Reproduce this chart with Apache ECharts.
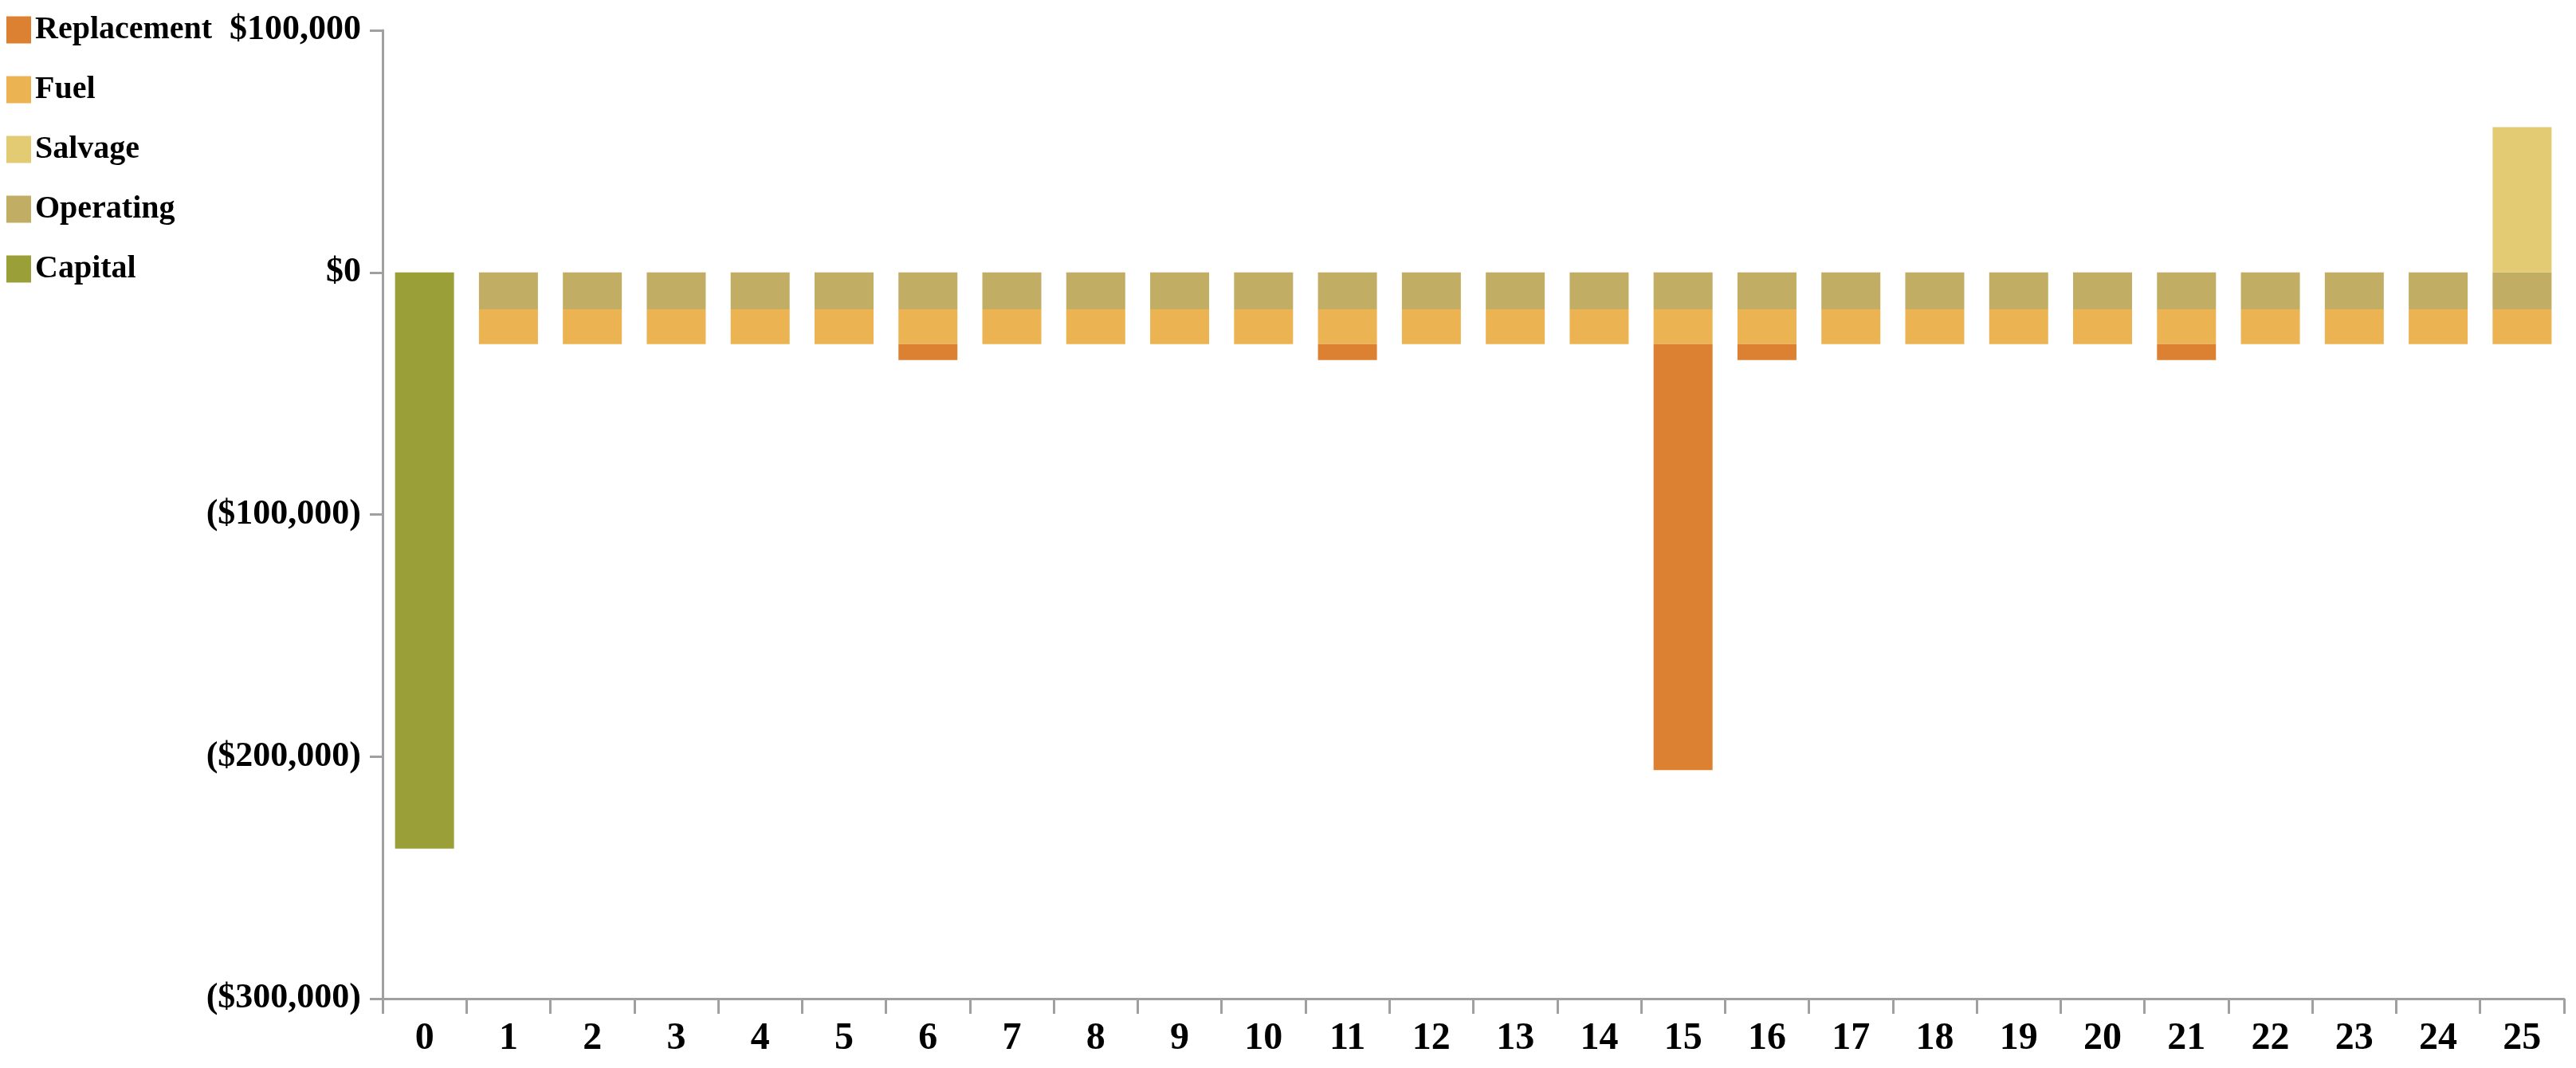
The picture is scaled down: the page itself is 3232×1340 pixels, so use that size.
<!DOCTYPE html>
<html>
<head>
<meta charset="utf-8">
<script src="https://cdn.jsdelivr.net/npm/echarts@6/dist/echarts.min.js"></script>
<style>
html,body{margin:0;padding:0;background:#fff;}
#chart{width:3232px;height:1340px;}
</style>
</head>
<body>
<div id="chart"></div>
<script>
const years = ['0','1','2','3','4','5','6','7','8','9','10','11','12','13','14','15','16','17','18','19','20','21','22','23','24','25'];
const capital = [-238000,null,null,null,null,null,null,null,null,null,null,null,null,null,null,null,null,null,null,null,null,null,null,null,null,null];
const operating = [null,-15200,-15200,-15200,-15200,-15200,-15200,-15200,-15200,-15200,-15200,-15200,-15200,-15200,-15200,-15200,-15200,-15200,-15200,-15200,-15200,-15200,-15200,-15200,-15200,-15200];
const fuel = [null,-14400,-14400,-14400,-14400,-14400,-14400,-14400,-14400,-14400,-14400,-14400,-14400,-14400,-14400,-14400,-14400,-14400,-14400,-14400,-14400,-14400,-14400,-14400,-14400,-14400];
const replacement = [null,null,null,null,null,null,-6600,null,null,null,null,-6600,null,null,null,-176000,-6600,null,null,null,null,-6600,null,null,null,null];
const salvage = [null,null,null,null,null,null,null,null,null,null,null,null,null,null,null,null,null,null,null,null,null,null,null,null,null,60000];
const legendOrder = ['Replacement','Fuel','Salvage','Operating','Capital'];
const yTicks = {min:-300000, max:100000, interval:100000};

const colors = {
  Replacement:'#DC8032',
  Fuel:'#EBB352',
  Salvage:'#E2CB72',
  Operating:'#C1AD63',
  Capital:'#9AA037'
};
const font = '"Liberation Serif", "DejaVu Serif", serif';

function fmt(v){
  if (v === 0) return '$0';
  const s = Math.abs(v).toString().replace(/\B(?=(\d{3})+(?!\d))/g, ',');
  return v < 0 ? '($' + s + ')' : '$' + s;
}

function mk(name, data){
  return {
    name: name, type:'bar', stack:'total', data:data, barWidth:74,
    itemStyle:{color:colors[name]}, emphasis:{disabled:true}
  };
}

const chart = echarts.init(document.getElementById('chart'), null, {renderer:'canvas'});
chart.setOption({
  animation:false,
  backgroundColor:'#ffffff',
  legend:{
    orient:'vertical', left:3, top:12,
    data:legendOrder, icon:'rect',
    itemWidth:31, itemHeight:34, itemGap:34,
    textStyle:{fontFamily:font, fontWeight:'bold', fontSize:40, color:'#000', lineHeight:41, padding:[0,0,0,0]},
    selectedMode:false
  },
  grid:{left:480, right:15, top:38, bottom:87, containLabel:false},
  xAxis:{
    type:'category', data:years, position:'bottom',
    axisLine:{onZero:false, lineStyle:{color:'#a0a0a0', width:3}},
    axisTick:{show:true, alignWithLabel:false, length:19, lineStyle:{color:'#a0a0a0', width:3}},
    axisLabel:{fontFamily:font, fontWeight:'bold', fontSize:48, color:'#000', margin:27, interval:0},
    splitLine:{show:false}
  },
  yAxis:{
    type:'value', min:yTicks.min, max:yTicks.max, interval:yTicks.interval,
    axisLine:{show:true, lineStyle:{color:'#a0a0a0', width:3}},
    axisTick:{show:true, length:16, lineStyle:{color:'#a0a0a0', width:3}},
    axisLabel:{fontFamily:font, fontWeight:'bold', fontSize:44, color:'#000', margin:27, formatter:fmt},
    splitLine:{show:false}
  },
  series:[
    mk('Capital', capital),
    mk('Operating', operating),
    mk('Fuel', fuel),
    mk('Replacement', replacement),
    mk('Salvage', salvage)
  ]
});
</script>
</body>
</html>
